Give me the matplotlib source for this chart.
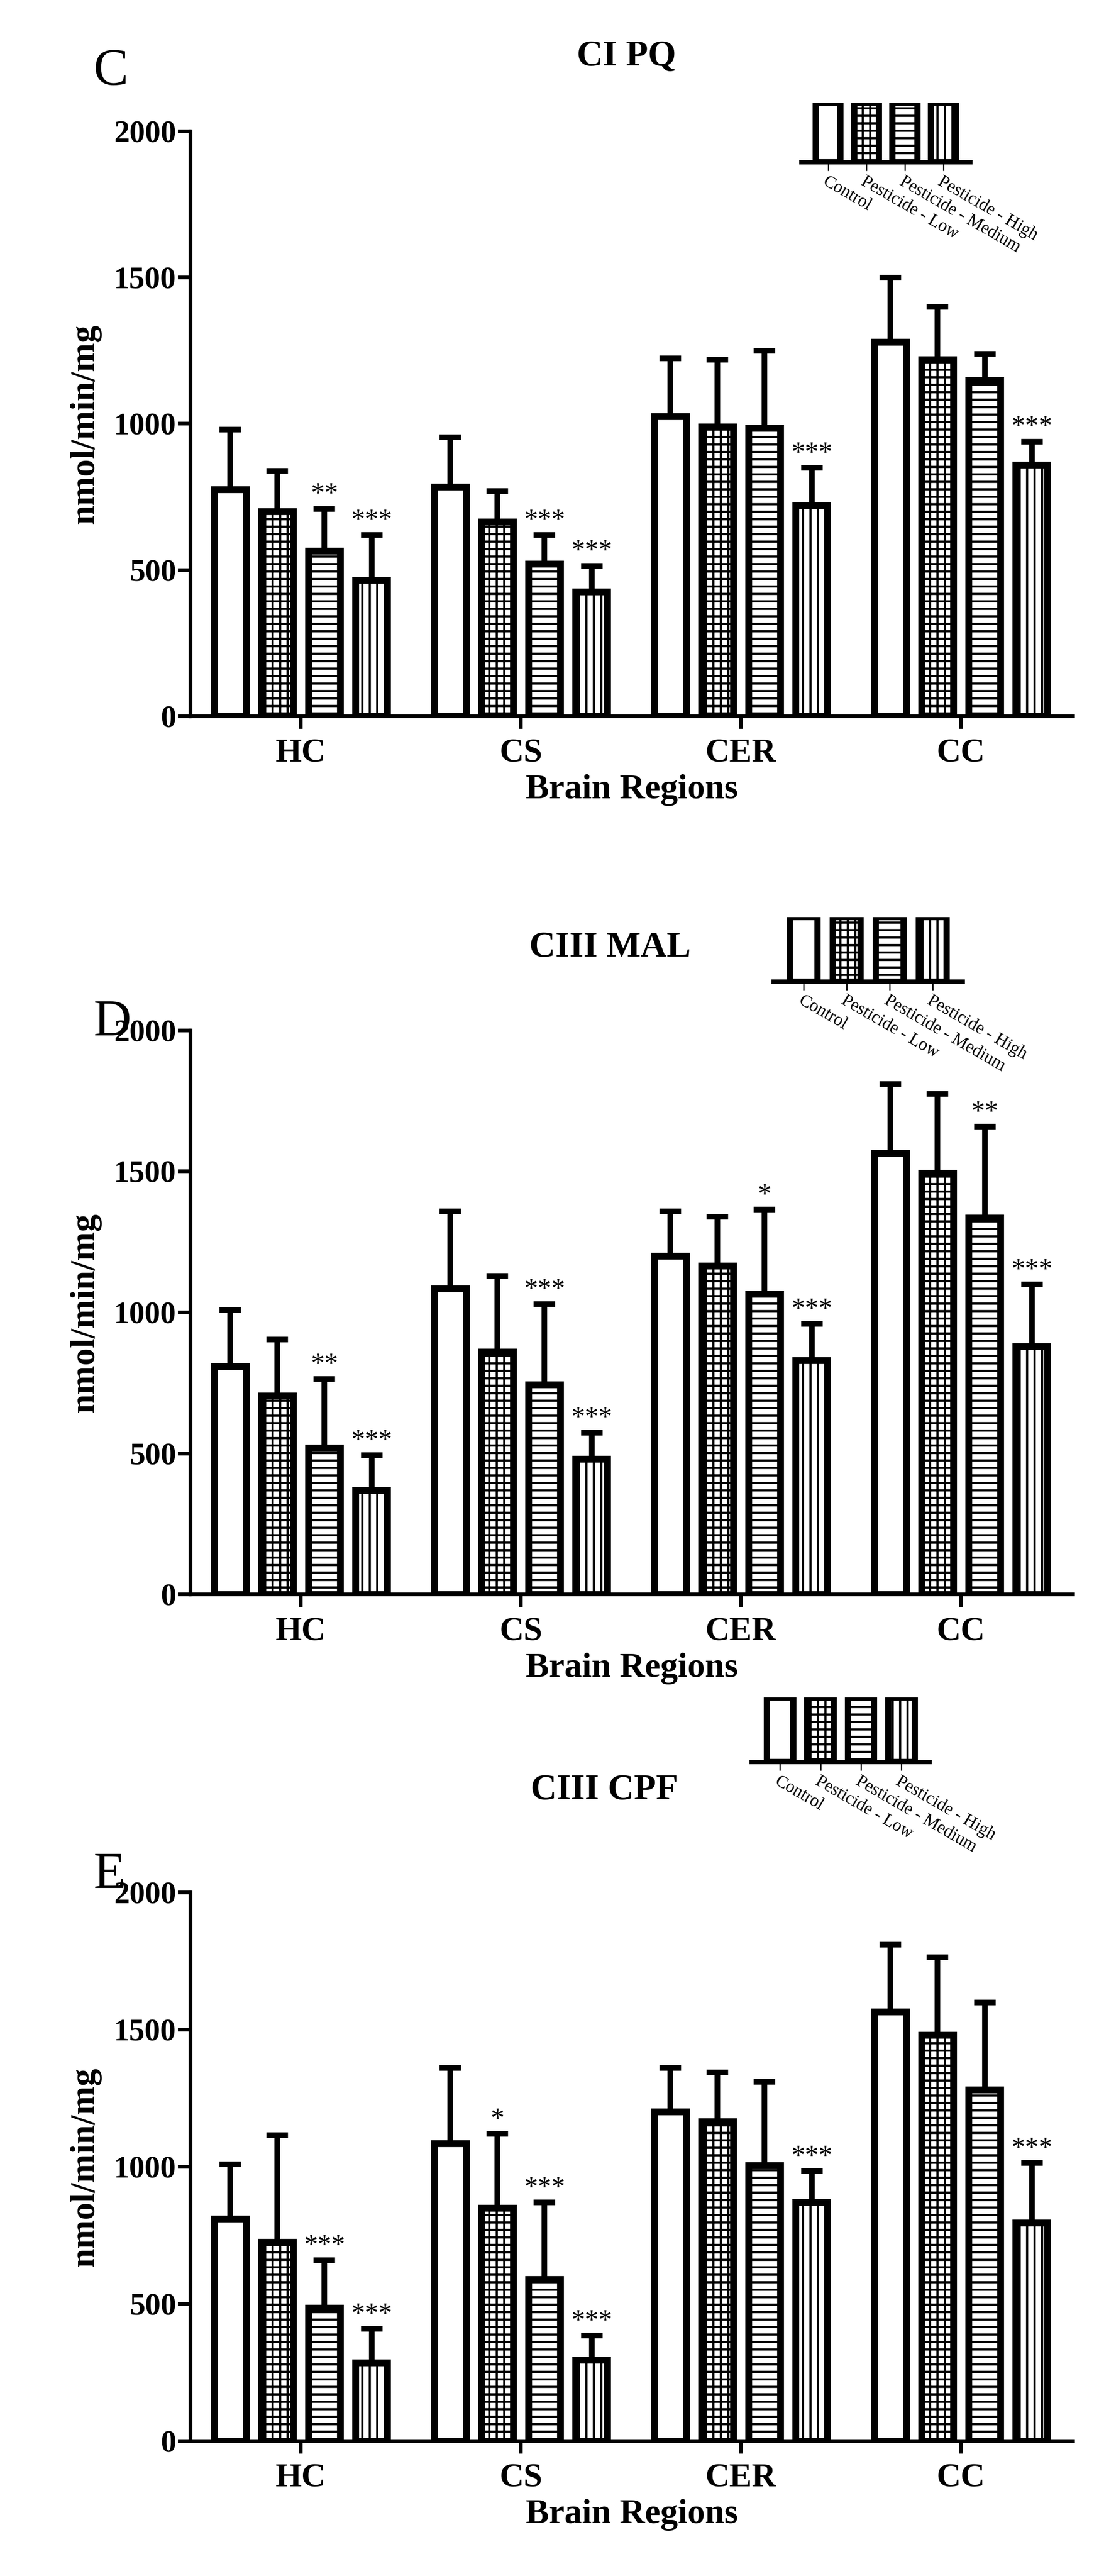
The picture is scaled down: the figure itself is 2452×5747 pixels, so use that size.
import numpy as np
import matplotlib
matplotlib.use("Agg")
import matplotlib.pyplot as plt

plt.rcParams['font.family'] = ['Liberation Serif', 'DejaVu Serif']
plt.rcParams['hatch.linewidth'] = 3.5

regions = ["HC", "CS", "CER", "CC"]
groups = ["Control", "Pesticide - Low", "Pesticide - Medium", "Pesticide - High"]
hatches = ["", "+", "-", "|"]

titles = ["CI PQ", "CIII MAL", "CIII CPF"]
letters = ["C", "D", "E"]

means_C = [[775, 785, 1025, 1280], [700, 665, 990, 1220], [565, 520, 985, 1150], [465, 425, 720, 860]]
err_C = [[205, 170, 200, 220], [140, 105, 230, 180], [145, 100, 265, 90], [155, 90, 130, 80]]
sig_C = [["", "", "", ""], ["", "", "", ""], ["**", "***", "", ""], ["***", "***", "***", "***"]]

means_D = [[810, 1085, 1200, 1565], [705, 860, 1165, 1495], [520, 745, 1065, 1335], [370, 480, 830, 880]]
err_D = [[200, 275, 160, 245], [200, 270, 175, 280], [245, 285, 300, 325], [125, 95, 130, 220]]
sig_D = [["", "", "", ""], ["", "", "", ""], ["**", "***", "*", "**"], ["***", "***", "***", "***"]]

means_E = [[810, 1085, 1200, 1565], [725, 850, 1165, 1480], [485, 590, 1005, 1280], [285, 295, 870, 795]]
err_E = [[200, 275, 160, 245], [390, 270, 180, 285], [175, 280, 305, 320], [125, 90, 115, 220]]
sig_E = [["", "", "", ""], ["", "*", "", ""], ["***", "***", "", ""], ["***", "***", "***", "***"]]

panels = [(means_C, err_C, sig_C), (means_D, err_D, sig_D), (means_E, err_E, sig_E)]
axpos = [(0.1735, 0.722, 0.803, 0.227), (0.1735, 0.381, 0.803, 0.219), (0.1735, 0.0524, 0.803, 0.213)]
legpos = [(0.729, 0.937, 0.154, 0.023), (0.704, 0.619, 0.172, 0.025), (0.684, 0.316, 0.162, 0.025)]
letterpos = [(0.085, 0.972), (0.085, 0.603), (0.085, 0.272)]
titlepos = [(0.57, 0.978), (0.555, 0.632), (0.55, 0.305)]

fig = plt.figure(figsize=(24.52, 57.47), dpi=100)
off = 0.214
w = 0.145
x = np.arange(len(regions))
for p, (m, e, s) in enumerate(panels):
    ax = fig.add_axes(axpos[p])
    for g in range(4):
        xs = x + (g - 1.5) * off
        ax.bar(xs, m[g], width=w, facecolor="white", edgecolor="black", linewidth=11,
               hatch=hatches[g], zorder=2)
        ax.errorbar(xs, m[g], yerr=[np.zeros(4), e[g]], fmt="none", ecolor="black",
                    elinewidth=9, capsize=17, capthick=9, zorder=1)
        for i in range(4):
            if s[g][i]:
                ax.text(xs[i], m[g][i] + e[g][i] + 5, s[g][i], ha="center", va="bottom",
                        fontsize=44)
    ax.set_xlim(-0.50, 3.51)
    ax.set_ylim(0, 2000)
    ax.set_yticks([0, 500, 1000, 1500, 2000])
    ax.set_xticks(x)
    ax.set_xticklabels(regions, fontsize=54, fontweight="bold")
    ax.tick_params(axis="y", labelsize=50, width=6, length=20)
    ax.tick_params(axis="x", width=6, length=20, pad=16)
    for lab in ax.get_yticklabels():
        lab.set_fontweight("bold")
    for sp in ["top", "right"]:
        ax.spines[sp].set_visible(False)
    for sp in ["left", "bottom"]:
        ax.spines[sp].set_linewidth(6)
    ax.set_xlabel("Brain Regions", fontsize=56, fontweight="bold", labelpad=8)
    ax.set_ylabel("nmol/min/mg", fontsize=56, fontweight="bold", labelpad=20)
    fig.text(*letterpos[p], letters[p], fontsize=84, ha="left", va="center")
    fig.text(*titlepos[p], titles[p], fontsize=58, fontweight="bold", ha="center", va="center")

    lg = fig.add_axes(legpos[p])
    lx = np.arange(4)
    lg.bar(lx, [1, 1, 1, 1], width=0.65, facecolor="white", edgecolor="black", linewidth=10,
           hatch=hatches)
    lg.set_xlim(-0.7, 3.7)
    lg.set_ylim(0, 1)
    lg.set_yticks([])
    for sp in ["top", "right", "left"]:
        lg.spines[sp].set_visible(False)
    lg.spines["bottom"].set_linewidth(7)
    lg.set_xticks(lx)
    lg.set_xticklabels(groups, rotation=-30, ha="left", rotation_mode="anchor", fontsize=28)
    lg.tick_params(axis="x", width=2, length=14)

fig.savefig("out.png", dpi=100)
